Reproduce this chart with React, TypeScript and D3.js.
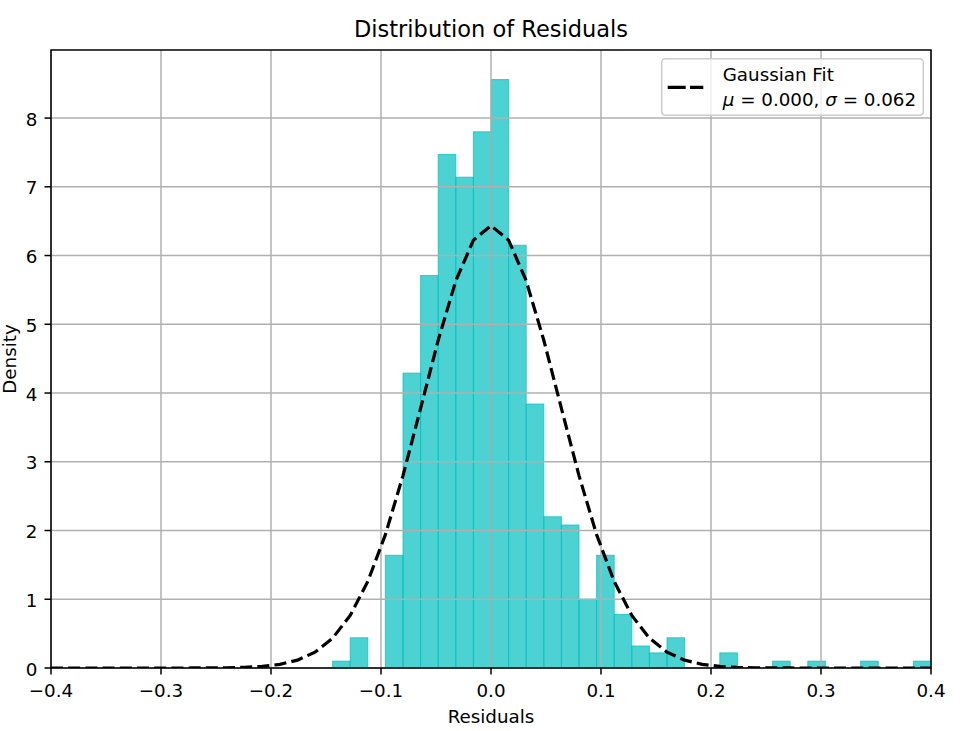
import * as d3 from "d3";

// histogram of residuals (density), bin edges and heights
const binEdges = [
  -0.144, -0.128, -0.112, -0.096, -0.08, -0.064, -0.048, -0.032, -0.016, 0,
  0.016, 0.032, 0.048, 0.064, 0.08, 0.096, 0.112, 0.128, 0.144, 0.16,
  0.176, 0.192, 0.208, 0.224, 0.24, 0.256, 0.272, 0.288, 0.304, 0.32,
  0.336, 0.352, 0.368, 0.384, 0.4,
];
const densities = [
  0.1, 0.44, 0, 1.64, 4.29, 5.71, 7.47, 7.14, 7.8, 8.56,
  6.15, 3.84, 2.2, 2.08, 1.0, 1.64, 0.78, 0.32, 0.22, 0.44,
  0, 0, 0.22, 0, 0, 0.1, 0, 0.1, 0, 0,
  0.1, 0, 0, 0.1,
];

// gaussian fit curve, sampled points
const fitX = [
  -0.4, -0.384, -0.368, -0.352, -0.336, -0.32, -0.304, -0.288, -0.272, -0.256,
  -0.24, -0.224, -0.208, -0.192, -0.176, -0.16, -0.144, -0.128, -0.112, -0.096,
  -0.08, -0.064, -0.048, -0.032, -0.016, 0, 0.016, 0.032, 0.048, 0.064,
  0.08, 0.096, 0.112, 0.128, 0.144, 0.16, 0.176, 0.192, 0.208, 0.224,
  0.24, 0.256, 0.272, 0.288, 0.304, 0.32, 0.336, 0.352, 0.368, 0.384, 0.4,
];
const fitY = [
  0, 0, 0, 0, 0, 0, 0, 0.0001, 0.0004, 0.0013,
  0.0036, 0.0094, 0.0231, 0.0532, 0.1145, 0.23, 0.434, 0.764, 1.259, 1.94,
  2.799, 3.777, 4.768, 5.632, 6.224, 6.435, 6.224, 5.632, 4.768, 3.777,
  2.799, 1.94, 1.259, 0.764, 0.434, 0.23, 0.1145, 0.0532, 0.0231, 0.0094,
  0.0036, 0.0013, 0.0004, 0.0001, 0, 0, 0, 0, 0, 0, 0,
];

const xTicks = [-0.4, -0.3, -0.2, -0.1, 0, 0.1, 0.2, 0.3, 0.4];
const yTicks = [0, 1, 2, 3, 4, 5, 6, 7, 8];

const W = 962;
const H = 731;
const plot = { left: 51, right: 931, top: 50, bottom: 668 };
const FONT = "DejaVu Sans, Verdana, sans-serif";
const FS = 18.3; // tick / label / legend size
const GRID = "#b0b0b0";
const BAR = "#00bfbf";
const LW = 1.5;

const fmtX = (v: number) => {
  const s = Math.abs(v).toFixed(1);
  return v < 0 ? "\u2212" + s : s;
};

export default function App() {
  const x = d3.scaleLinear().domain([-0.4, 0.4]).range([plot.left, plot.right]);
  const y = d3.scaleLinear().domain([0, 8.99]).range([plot.bottom, plot.top]);

  const line = d3
    .line<number>()
    .x((_, i) => x(fitX[i]))
    .y((d) => y(d));

  const midX = (plot.left + plot.right) / 2;
  const midY = (plot.top + plot.bottom) / 2;

  return (
    <svg
      width={W}
      height={H}
      style={{ position: "absolute", left: 0, top: 0, background: "#fff" }}
      fontFamily={FONT}
    >
      <defs>
        <clipPath id="plot-area">
          <rect x={plot.left} y={plot.top} width={plot.right - plot.left} height={plot.bottom - plot.top} />
        </clipPath>
      </defs>

      {/* bars */}
      <g clipPath="url(#plot-area)">
        {densities.map((d, i) =>
          d > 0 ? (
            <rect
              key={i}
              x={x(binEdges[i])}
              y={y(d)}
              width={x(binEdges[i + 1]) - x(binEdges[i])}
              height={y(0) - y(d)}
              fill={BAR}
              fillOpacity={0.7}
              stroke={BAR}
              strokeOpacity={0.7}
              strokeWidth={1}
            />
          ) : null
        )}
      </g>

      {/* grid, above the bars like matplotlib */}
      <g stroke={GRID} strokeWidth={LW}>
        {xTicks.map((t) => (
          <line key={"gx" + t} x1={x(t)} x2={x(t)} y1={plot.top} y2={plot.bottom} />
        ))}
        {yTicks.map((t) => (
          <line key={"gy" + t} x1={plot.left} x2={plot.right} y1={y(t)} y2={y(t)} />
        ))}
      </g>

      {/* gaussian fit */}
      <path
        d={line(fitY) ?? ""}
        fill="none"
        stroke="#000"
        strokeWidth={3.2}
        strokeDasharray="12,5.2"
        clipPath="url(#plot-area)"
      />

      {/* spines */}
      <rect
        x={plot.left}
        y={plot.top}
        width={plot.right - plot.left}
        height={plot.bottom - plot.top}
        fill="none"
        stroke="#000"
        strokeWidth={LW}
      />

      {/* x ticks */}
      <g fontSize={FS} fill="#000" textAnchor="middle">
        {xTicks.map((t) => (
          <g key={"tx" + t}>
            <line x1={x(t)} x2={x(t)} y1={plot.bottom} y2={plot.bottom + 6.5} stroke="#000" strokeWidth={LW} />
            <text x={x(t)} y={697}>
              {fmtX(t)}
            </text>
          </g>
        ))}
      </g>

      {/* y ticks */}
      <g fontSize={FS} fill="#000" textAnchor="end">
        {yTicks.map((t) => (
          <g key={"ty" + t}>
            <line x1={plot.left - 6.5} x2={plot.left} y1={y(t)} y2={y(t)} stroke="#000" strokeWidth={LW} />
            <text x={37.5} y={y(t) + 7.5}>
              {t}
            </text>
          </g>
        ))}
      </g>

      {/* labels */}
      <text x={midX} y={722.7} fontSize={FS} textAnchor="middle">
        Residuals
      </text>
      <text transform={`translate(16,${midY}) rotate(-90)`} fontSize={FS} textAnchor="middle">
        Density
      </text>
      <text x={midX} y={36.7} fontSize={22.5} textAnchor="middle">
        Distribution of Residuals
      </text>

      {/* legend */}
      <g>
        <rect x={661.7} y={58.7} width={261.6} height={56.6} rx={3.5} fill="#fff" fillOpacity={0.8} stroke="#cccccc" strokeWidth={1.5} />
        <line x1={667.7} x2={703.3} y1={87.3} y2={87.3} stroke="#000" strokeWidth={3.2} strokeDasharray="18,4.3,13.3,100" />
        <text x={722.7} y={81} fontSize={FS}>
          Gaussian Fit
        </text>
        <text x={722.7} y={105.5} fontSize={FS}>
          <tspan fontStyle="italic">μ</tspan>
          <tspan> = 0.000, </tspan>
          <tspan fontStyle="italic">σ</tspan>
          <tspan> = 0.062</tspan>
        </text>
      </g>
    </svg>
  );
}
